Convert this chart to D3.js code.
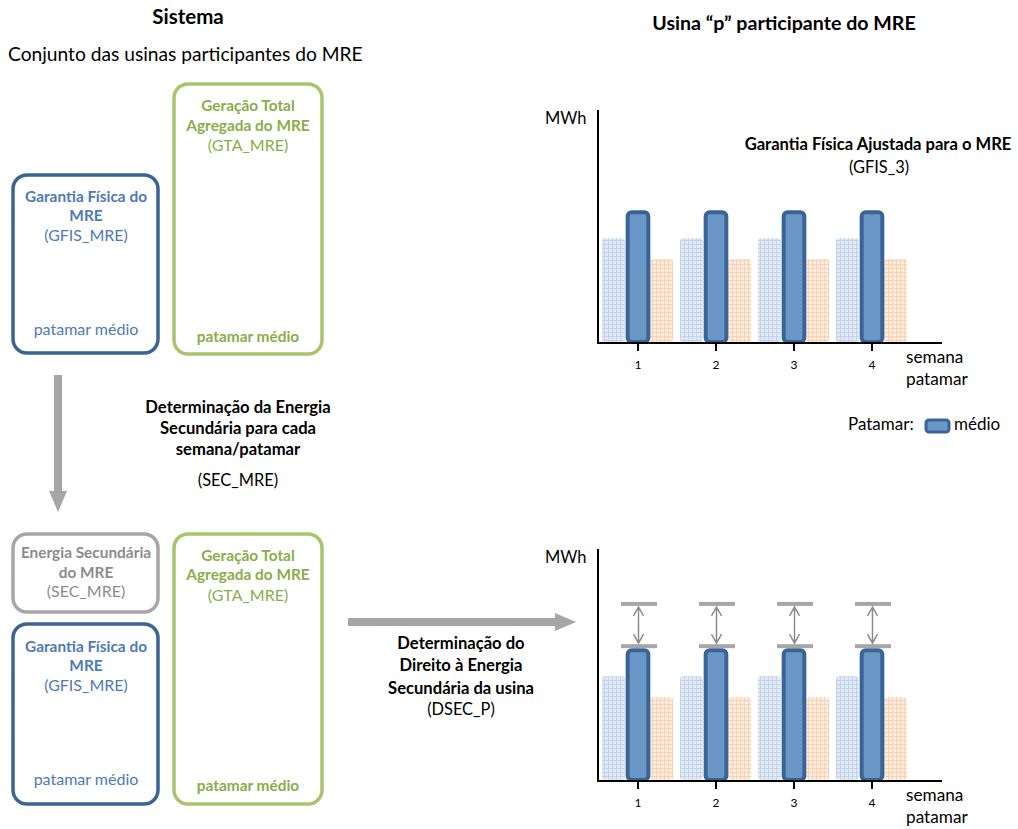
<!DOCTYPE html>
<html><head><meta charset="utf-8">
<script src="https://cdn.jsdelivr.net/npm/d3@7"></script>
<style>
html,body{margin:0;padding:0;background:#fff;}
svg{display:block;font-family:Lato,"Open Sans",sans-serif;}
</style></head>
<body>
<svg id="c" width="1018" height="829"></svg>
<script>
// ---- data ----
const weeks = ["1","2","3","4"];
const seriesNames = ["outro1","medio","outro2"];
const lightValues = [4.5, 4.5, 4.5, 4.5];     // faded bar left
const medioValues = [5.7, 5.7, 5.7, 5.7];     // patamar médio (highlighted)
const orangeValues = [3.6, 3.6, 3.6, 3.6];    // faded bar right
const secTopValues = [7.6, 7.6, 7.6, 7.6];    // upper cap (GFIS + SEC)
const yDomain = [0, 10];

const svg = d3.select("#c");
const defs = svg.append("defs");
function gridPattern(id, bg, line){
  const p = defs.append("pattern").attr("id", id).attr("patternUnits","userSpaceOnUse")
    .attr("width",4).attr("height",4);
  p.append("rect").attr("width",4).attr("height",4).attr("fill",bg);
  p.append("path").attr("d","M0,0.5H4M0.5,0V4").attr("stroke",line).attr("stroke-width",0.8);
}
gridPattern("pBlue","#e0e9f4","#bccee6");
gridPattern("pOrange","#fdece0","#f9cda8");

const DARK = "#3a6496", MID = "#6b96c8", TXTBLUE = "#4f7ab8", GREEN = "#a9c46c", TXTGREEN = "#8aad4a", GREY = "#a6a6a6";

// ---- headings ----
svg.append("text").attr("x",188).attr("y",24).attr("text-anchor","middle")
  .attr("font-weight","bold").attr("font-size",20.5).text("Sistema");
svg.append("text").attr("x",784).attr("y",30).attr("text-anchor","middle")
  .attr("font-weight","bold").attr("font-size",19.6).text("Usina “p” participante do MRE");
svg.append("text").attr("x",8).attr("y",61).attr("font-size",19.2).text("Conjunto das usinas participantes do MRE");

// ---- boxes ----
function box(x,y,w,h,color){
  svg.append("rect").attr("x",x).attr("y",y).attr("width",w).attr("height",h)
    .attr("rx",14).attr("fill","none").attr("stroke",color).attr("stroke-width",3.5);
}
function txt(x,y,s,color,bold,size){
  svg.append("text").attr("x",x).attr("y",y).attr("text-anchor","middle")
    .attr("dominant-baseline","middle")
    .attr("fill",color).attr("font-weight",bold?"bold":"normal").attr("font-size",size||15.4).text(s);
}
const NB = 15.4, NN = 16;
// top-left
box(13,175,145,178,DARK);
txt(86,198,"Garantia Física do",TXTBLUE,true,NB);
txt(86,217,"MRE",TXTBLUE,true,NB);
txt(86,237,"(GFIS_MRE)",TXTBLUE,false,NN);
txt(86,331,"patamar médio",TXTBLUE,false,NN);
box(174,84,148,270,GREEN);
txt(248,107,"Geração Total",TXTGREEN,true,NB);
txt(248,127,"Agregada do MRE",TXTGREEN,true,NB);
txt(248,147,"(GTA_MRE)",TXTGREEN,false,NN);
txt(248,338,"patamar médio",TXTGREEN,true,NB);

// bottom-left
box(13,534,145,78,GREY);
txt(86,554,"Energia Secundária","#8c8c8c",true,NB);
txt(86,574,"do MRE","#8c8c8c",true,NB);
txt(86,593,"(SEC_MRE)","#8c8c8c",false,NN);
box(13,624,145,180,DARK);
txt(86,648,"Garantia Física do",TXTBLUE,true,NB);
txt(86,667,"MRE",TXTBLUE,true,NB);
txt(86,687,"(GFIS_MRE)",TXTBLUE,false,NN);
txt(86,781,"patamar médio",TXTBLUE,false,NN);
box(174,534,148,270,GREEN);
txt(248,557,"Geração Total",TXTGREEN,true,NB);
txt(248,576,"Agregada do MRE",TXTGREEN,true,NB);
txt(248,597,"(GTA_MRE)",TXTGREEN,false,NN);
txt(248,787,"patamar médio",TXTGREEN,true,NB);

// big arrows
svg.append("path").attr("d","M58,375V493").attr("stroke",GREY).attr("stroke-width",8);
svg.append("path").attr("d","M49,491L58,512L67,491Z").attr("fill",GREY);
svg.append("path").attr("d","M348,622H556").attr("stroke",GREY).attr("stroke-width",8);
svg.append("path").attr("d","M555,613L576,622L555,631Z").attr("fill",GREY);

// middle texts
const MB = 16.6;
txt(238,409,"Determinação da Energia","#000",true,MB);
txt(238,430,"Secundária para cada","#000",true,MB);
txt(238,451,"semana/patamar","#000",true,MB);
txt(238,482,"(SEC_MRE)","#000",false,16.4);
txt(461,645,"Determinação do","#000",true,MB);
txt(461,667,"Direito à Energia","#000",true,MB);
txt(461,690,"Secundária da usina","#000",true,MB);
txt(461,711,"(DSEC_P)","#000",false,16.4);

// ---- charts ----
function chart(y0, y1, withCaps){
  const x = d3.scaleBand().domain(weeks).range([599, 911]).padding(0);
  const sub = d3.scaleBand().domain(seriesNames).range([-36, 35]);
  const y = d3.scaleLinear().domain(yDomain).range([y1, y1 - 233]);
  const g = svg.append("g");
  const cx = d => x(d) + x.bandwidth()/2;

  // faded bars
  g.selectAll(".l").data(weeks).join("rect")
    .attr("x", d => cx(d) + sub("outro1")).attr("width", sub.bandwidth()-1)
    .attr("y", (d,i) => y(lightValues[i])).attr("height", (d,i) => y(0) - y(lightValues[i]) - 1)
    .attr("rx",3).attr("fill","url(#pBlue)");
  g.selectAll(".o").data(weeks).join("rect")
    .attr("x", d => cx(d) + sub("outro2")+1).attr("width", sub.bandwidth()-1)
    .attr("y", (d,i) => y(orangeValues[i])).attr("height", (d,i) => y(0) - y(orangeValues[i]) - 1)
    .attr("rx",3).attr("fill","url(#pOrange)");
  // highlighted bar
  g.selectAll(".m").data(weeks).join("rect")
    .attr("x", d => cx(d) + sub("medio") + 2).attr("width", sub.bandwidth()-3)
    .attr("y", (d,i) => y(medioValues[i]) + 2).attr("height", (d,i) => y(0) - y(medioValues[i]) - 3)
    .attr("rx",4).attr("fill",MID).attr("stroke",DARK).attr("stroke-width",4);

  if (withCaps){
    const capW = 36;
    g.selectAll(".ct").data(weeks).join("rect")
      .attr("x", d => cx(d) - capW/2 + 1).attr("width", capW)
      .attr("y", (d,i) => y(secTopValues[i]) - 2).attr("height", 4).attr("fill", GREY);
    g.selectAll(".cb").data(weeks).join("rect")
      .attr("x", d => cx(d) - capW/2 + 1).attr("width", capW)
      .attr("y", (d,i) => y(medioValues[i]) - 4).attr("height", 4).attr("fill", GREY);
    g.selectAll(".ar").data(weeks).join("path")
      .attr("d", (d,i) => {
        const ax = cx(d) + 0.5, t = y(secTopValues[i]) + 3, b = y(medioValues[i]) - 5;
        return `M${ax},${t}V${b}M${ax-5},${t+9}L${ax},${t}L${ax+5},${t+9}M${ax-5},${b-9}L${ax},${b}L${ax+5},${b-9}`;
      })
      .attr("fill","none").attr("stroke","#8c8c8c").attr("stroke-width",1.5);
  }

  // axes
  const xa = g.append("g").attr("transform",`translate(0,${y1})`)
    .call(d3.axisBottom(x).tickSize(8).tickPadding(9));
  xa.select(".domain").remove();
  xa.selectAll(".tick line").attr("stroke","#000").attr("stroke-width",2);
  xa.selectAll(".tick text").attr("font-size",12).attr("font-family","Lato,sans-serif").attr("fill","#000");
  g.append("line").attr("x1",597).attr("x2",942).attr("y1",y1).attr("y2",y1).attr("stroke","#000").attr("stroke-width",2);
  const ya = g.append("g").attr("transform","translate(598,0)")
    .call(d3.axisLeft(y).tickValues([]).tickSizeOuter(0));
  ya.select(".domain").attr("d",`M0,${y0}V${y1}`).attr("stroke","#000").attr("stroke-width",2);

  g.append("text").attr("x",545).attr("y",y0+10).attr("dominant-baseline","middle").attr("font-size",16.5).text("MWh");
  g.append("text").attr("x",906).attr("y",y1+16).attr("dominant-baseline","middle").attr("font-size",17.2).text("semana");
  g.append("text").attr("x",906).attr("y",y1+38).attr("dominant-baseline","middle").attr("font-size",17.2).text("patamar");
}
chart(110, 343, false);
chart(549, 781, true);

// top chart title
txt(878,146,"Garantia Física Ajustada para  o MRE","#000",true,16.6);
txt(879,169,"(GFIS_3)","#000",false,16.4);

// legend
svg.append("text").attr("x",848).attr("y",426).attr("dominant-baseline","middle").attr("font-size",17).text("Patamar:");
svg.append("rect").attr("x",926).attr("y",420).attr("width",23).attr("height",12).attr("rx",3)
  .attr("fill",MID).attr("stroke",DARK).attr("stroke-width",3);
svg.append("text").attr("x",954).attr("y",426).attr("dominant-baseline","middle").attr("font-size",17).text("médio");
</script>
</body></html>
